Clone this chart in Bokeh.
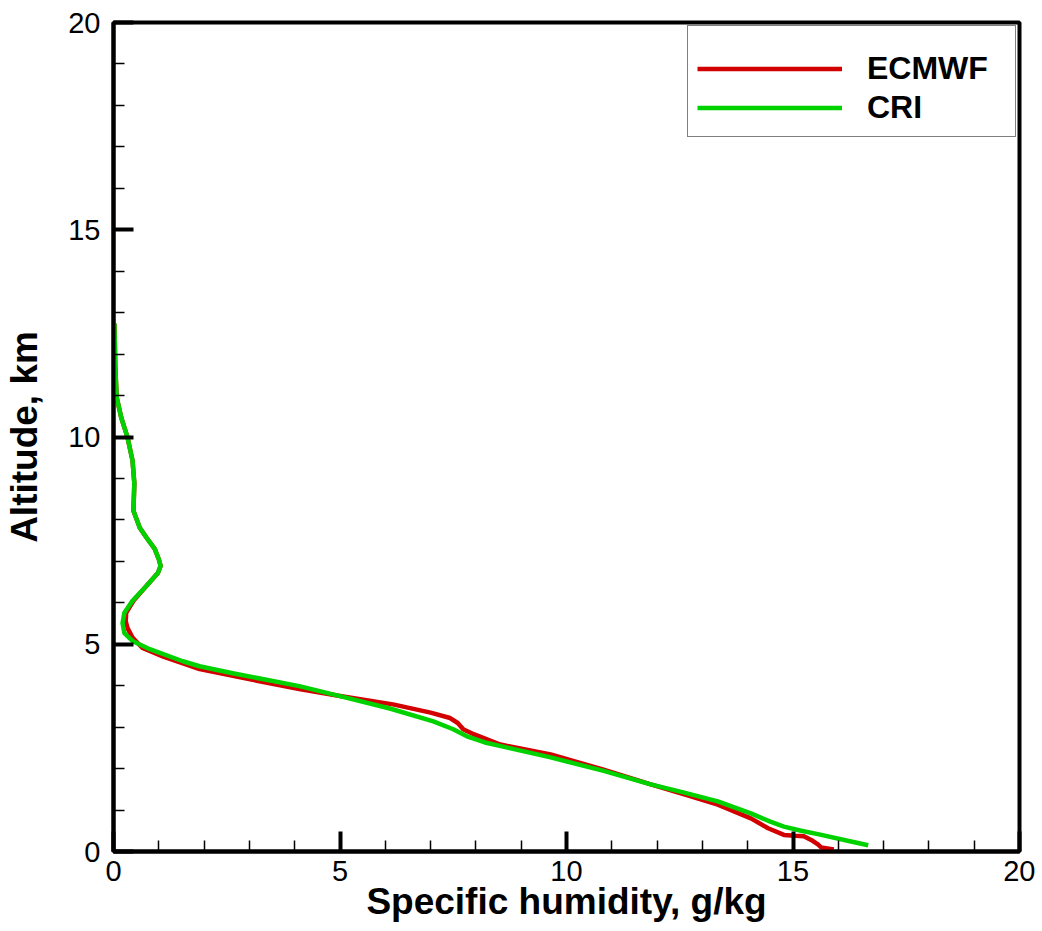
from bokeh.plotting import figure
from bokeh.models import Range1d, FixedTicker, Legend, LegendItem
from bokeh.embed import file_html
from bokeh.resources import INLINE

# ECMWF profile (altitude km, specific humidity g/kg)
ecmwf_alt = [12.74, 11.68, 10.96, 10.47, 9.99, 9.43, 8.88, 8.22, 7.81, 7.57, 7.3, 7.05, 6.89, 6.72,
             6.41, 6.05, 5.76, 5.55, 5.39, 5.16, 4.91, 4.7, 4.4, 4.2, 3.92, 3.75, 3.55, 3.35,
             3.22, 3.1, 2.95, 2.83, 2.58, 2.34, 1.98, 1.62, 1.38, 1.13, 0.8, 0.56, 0.4, 0.38,
             0.37, 0.28, 0.17, 0.1, 0.05]
ecmwf_q = [0.02, 0.04, 0.07, 0.17, 0.31, 0.42, 0.46, 0.44, 0.58, 0.73, 0.91, 1.0, 1.04, 0.98,
           0.73, 0.44, 0.28, 0.27, 0.31, 0.42, 0.64, 1.1, 1.9, 2.8, 4.1, 5.0, 6.17, 7.0,
           7.43, 7.6, 7.72, 7.95, 8.54, 9.65, 10.8, 11.86, 12.6, 13.34, 14.07, 14.45, 14.8, 15.05,
           15.24, 15.4, 15.55, 15.62, 15.9]

# CRI profile (altitude km, specific humidity g/kg)
cri_alt = [12.74, 11.68, 10.96, 10.47, 9.99, 9.43, 8.88, 8.22, 7.81, 7.57, 7.3, 7.05, 6.89, 6.72,
           6.41, 6.05, 5.76, 5.51, 5.27, 5.08, 4.88, 4.59, 4.47, 4.3, 3.99, 3.75, 3.45, 3.14,
           2.95, 2.78, 2.63, 2.53, 2.27, 1.95, 1.62, 1.42, 1.21, 0.92, 0.72, 0.6, 0.5, 0.42,
           0.24, 0.15]
cri_q = [0.02, 0.04, 0.07, 0.17, 0.31, 0.42, 0.46, 0.44, 0.58, 0.73, 0.91, 1.0, 1.04, 0.98,
         0.73, 0.42, 0.24, 0.2, 0.24, 0.42, 0.8, 1.53, 1.9, 2.63, 4.1, 5.0, 6.1, 7.06,
         7.5, 7.8, 8.2, 8.6, 9.65, 10.8, 11.86, 12.6, 13.34, 14.07, 14.5, 14.8, 15.18, 15.55,
         16.28, 16.66]

x_major = [0, 5, 10, 15, 20]
y_major = [0, 5, 10, 15, 20]
minor = list(range(0, 21))

FONT = "Liberation Sans"

p = figure(frame_width=906, frame_height=829, output_backend="svg", toolbar_location=None,
           x_range=Range1d(0, 20), y_range=Range1d(0, 20),
           min_border_left=113, min_border_top=22, min_border_right=16, min_border_bottom=60,
           background_fill_color="white", border_fill_color="white")

p.xgrid.visible = False
p.ygrid.visible = False
p.outline_line_color = "black"
p.outline_line_width = 4
p.outline_line_alpha = 1

p.xaxis.ticker = FixedTicker(ticks=x_major, minor_ticks=minor)
p.yaxis.ticker = FixedTicker(ticks=y_major, minor_ticks=minor)

for ax in (p.xaxis[0], p.yaxis[0]):
    ax.axis_line_width = 4
    ax.axis_line_color = "black"
    ax.major_tick_in = 20
    ax.major_tick_out = 0
    ax.major_tick_line_width = 4
    ax.minor_tick_in = 11
    ax.minor_tick_out = 0
    ax.minor_tick_line_width = 1.5
    ax.major_label_text_font = FONT
    ax.major_label_text_font_size = "29px"
    ax.major_label_text_color = "black"
    ax.axis_label_text_font = FONT
    ax.axis_label_text_font_size = "37px"
    ax.axis_label_text_font_style = "bold"
    ax.axis_label_text_color = "black"

p.xaxis.axis_label = "Specific humidity, g/kg"
p.yaxis.axis_label = "Altitude, km"
p.xaxis.major_label_standoff = 9
p.yaxis.major_label_standoff = 13
p.xaxis.axis_label_standoff = -3
p.yaxis.axis_label_standoff = 20

r1 = p.line(ecmwf_q, ecmwf_alt, line_color="#d20000", line_width=4.5, line_join="round")
r2 = p.line(cri_q, cri_alt, line_color="#00d200", line_width=4.5, line_join="round")

legend = Legend(items=[LegendItem(label="ECMWF", renderers=[r1]),
                       LegendItem(label="CRI", renderers=[r2])],
                location="top_right", margin=3, padding=9,
                title=" ", title_text_font_size="12px", title_standoff=0,
                glyph_width=145, glyph_height=39, label_height=39, spacing=0,
                label_standoff=25, label_width=139,
                label_text_font=FONT, label_text_font_size="32px",
                label_text_font_style="bold", label_text_color="black",
                border_line_color="black", border_line_width=1.5,
                background_fill_color="white", background_fill_alpha=1)
p.add_layout(legend)

open("out.html", "w").write(file_html(p, INLINE))
